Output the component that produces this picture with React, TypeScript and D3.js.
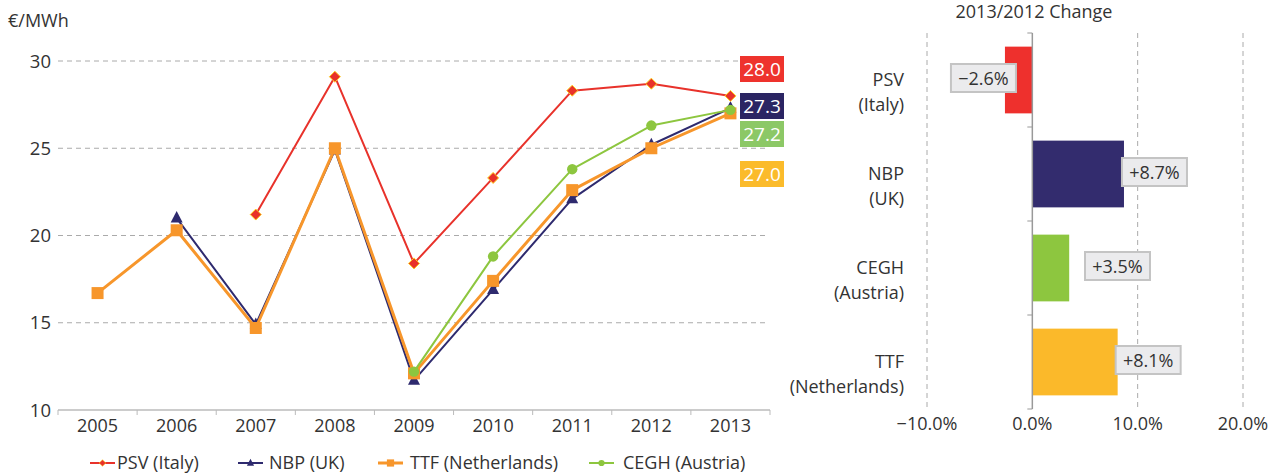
import React from "react";
import * as d3 from "d3";

// hub prices, €/MWh
const years = ["2005", "2006", "2007", "2008", "2009", "2010", "2011", "2012", "2013"];
const psv = [null, null, 21.2, 29.1, 18.4, 23.3, 28.3, 28.7, 28.0];
const nbp = [null, 21.0, 14.9, 24.9, 11.7, 16.9, 22.1, 25.2, 27.3];
const ttf = [16.7, 20.3, 14.7, 25.0, 12.1, 17.4, 22.6, 25.0, 27.0];
const cegh = [null, null, null, null, 12.2, 18.8, 23.8, 26.3, 27.2];
const yTicks = [10, 15, 20, 25, 30];

const seriesNames = ["PSV (Italy)", "NBP (UK)", "TTF (Netherlands)", "CEGH (Austria)"];
const lastLabels = ["28.0", "27.3", "27.2", "27.0"];

// 2013/2012 change
const changeHubs = [["PSV", "(Italy)"], ["NBP", "(UK)"], ["CEGH", "(Austria)"], ["TTF", "(Netherlands)"]];
const changes = [-2.6, 8.7, 3.5, 8.1];
const changeTicks = [-10, 0, 10, 20];

const FONT = "'Open Sans', 'Noto Sans', sans-serif";
const TXT = "#333";

const W = 1287, H = 473;

const Marker = ({ kind, x, y, color }: { kind: string; x: number; y: number; color: string }) => {
  if (kind === "diamond")
    return <path d={`M${x},${y - 5.5}L${x + 5.5},${y}L${x},${y + 5.5}L${x - 5.5},${y}Z`} fill={color} stroke="#ffd21f" strokeWidth={1} />;
  if (kind === "triangle")
    return <path d={`M${x},${y - 7}L${x + 6},${y + 4.5}L${x - 6},${y + 4.5}Z`} fill={color} />;
  if (kind === "square")
    return <rect x={x - 6} y={y - 6} width={12} height={12} fill={color} />;
  return <circle cx={x} cy={y} r={5.2} fill={color} />;
};

const LineChart = () => {
  const x = d3.scaleBand().domain(years).range([58, 770]);
  const y = d3.scaleLinear().domain([10, 30]).range([410, 61]);
  const series = [
    { name: seriesNames[1], data: nbp, color: "#2e2a6e", width: 2, kind: "triangle" },
    { name: seriesNames[2], data: ttf, color: "#f7962b", width: 3, kind: "square" },
    { name: seriesNames[3], data: cegh, color: "#8dc63f", width: 2, kind: "circle" },
    { name: seriesNames[0], data: psv, color: "#e8322b", width: 2, kind: "diamond" },
  ];
  const cx = (i: number) => (x(years[i]) as number) + x.bandwidth() / 2;
  const line = d3
    .line<number | null>()
    .defined((d) => d != null)
    .x((_, i) => cx(i))
    .y((d) => y(d as number));

  const labelColors = ["#ee332d", "#2b2563", "#8cc866", "#fbbb2b"];
  const labelRowY = [69, 106, 134, 174];

  const legend = [
    { s: series[3], lx: 90, tx: 117 },
    { s: series[0], lx: 238, tx: 269 },
    { s: series[1], lx: 378, tx: 410 },
    { s: series[2], lx: 589, tx: 623 },
  ];

  return (
    <g>
      <text x={8} y={27} fontSize={18} fill={TXT}>€/MWh</text>
      {yTicks.map((t) => (
        <g key={t}>
          {t > 10 && (
            <line x1={58} x2={768} y1={y(t)} y2={y(t)} stroke="#aaa" strokeDasharray="5,4" />
          )}
          <text x={51} y={y(t) + 6.5} textAnchor="end" fontSize={18.5} fill={TXT}>{t}</text>
        </g>
      ))}
      <line x1={58} x2={770} y1={410} y2={410} stroke="#bbb" strokeWidth={1.5} />
      {years.map((yr, i) => (
        <g key={yr}>
          <line x1={x(yr) as number} x2={x(yr) as number} y1={410} y2={415} stroke="#bbb" />
          <text x={cx(i)} y={432} textAnchor="middle" fontSize={18} fill={TXT}>{yr}</text>
        </g>
      ))}
      <line x1={770} x2={770} y1={410} y2={415} stroke="#bbb" />
      {series.map((s) => (
        <g key={s.name}>
          <path d={line(s.data) || ""} fill="none" stroke={s.color} strokeWidth={s.width} strokeLinejoin="round" />
          {s.data.map((d, i) => (d == null ? null : <Marker key={i} kind={s.kind} x={cx(i)} y={y(d)} color={s.color} />))}
        </g>
      ))}
      {lastLabels.map((l, i) => (
        <g key={l}>
          <rect x={740} y={labelRowY[i] - 13} width={44} height={26} fill={labelColors[i]} />
          <text x={762} y={labelRowY[i] + 7} textAnchor="middle" fontSize={19} fill="#fff">{l}</text>
        </g>
      ))}
      {legend.map(({ s, lx, tx }) => (
        <g key={s.name}>
          <line x1={lx} x2={lx + 25} y1={463} y2={463} stroke={s.color} strokeWidth={s.width} />
          <g transform={`translate(${lx + 12.5},463) scale(0.6) translate(${-(lx + 12.5)},-463)`}>
            <Marker kind={s.kind} x={lx + 12.5} y={463} color={s.color} />
          </g>
          <text x={tx} y={469} fontSize={18} fill={TXT}>{s.name}</text>
        </g>
      ))}
    </g>
  );
};

const ChangeChart = () => {
  const x = d3.scaleLinear().domain([-10, 20]).range([927, 1243]);
  const names = changeHubs.map((d) => d[0]);
  const y = d3.scaleBand().domain(names).range([33, 409]).paddingInner(0.29).paddingOuter(0.145);
  const band = (409 - 33) / names.length;
  const colors = ["#ee302d", "#332c6e", "#8dc63f", "#fbb92a"];

  return (
    <g>
      <text x={1034} y={18} textAnchor="middle" fontSize={18} fill={TXT}>2013/2012 Change</text>
      {changeTicks.map((t) => (
        <g key={t}>
          {t !== 0 && <line x1={x(t)} x2={x(t)} y1={33} y2={409} stroke="#aaa" strokeDasharray="5,4" />}
          <text x={x(t)} y={430} textAnchor="middle" fontSize={18} fill={TXT}>
            {t.toFixed(1).replace("-", "\u2212") + "%"}
          </text>
        </g>
      ))}
      {changes.map((v, i) => {
        const by = y(names[i]) as number;
        const x0 = x(Math.min(0, v));
        const w = Math.abs(x(v) - x(0));
        const mid = 33 + band * (i + 0.5);
        const bx = v < 0 ? x(v) - 54 : Math.max(x(v) - 2, x(5));
        const label = (v < 0 ? "\u2212" : "+") + Math.abs(v).toFixed(1) + "%";
        return (
          <g key={names[i]}>
            <rect x={x0} y={by} width={w} height={y.bandwidth()} fill={colors[i]} />
            <rect x={bx} y={mid - 16} width={65} height={28} fill="#ebebed" stroke="#c4c4c4" strokeWidth={2} />
            <text x={bx + 32.5} y={mid + 4.5} textAnchor="middle" fontSize={18} fill={TXT}>{label}</text>
            <text x={904} y={mid + 6} textAnchor="end" fontSize={18} fill={TXT}>{changeHubs[i][0]}</text>
            <text x={904} y={mid + 31} textAnchor="end" fontSize={18} fill={TXT}>{changeHubs[i][1]}</text>
          </g>
        );
      })}
      <line x1={x(0)} x2={x(0)} y1={33} y2={409} stroke="#999" strokeWidth={1.5} />
      {d3.range(names.length + 1).map((k) => (
        <line key={k} x1={x(0) - 5} x2={x(0)} y1={33 + band * k} y2={33 + band * k} stroke="#999" />
      ))}
    </g>
  );
};

export default function App() {
  return (
    <svg
      width={W}
      height={H}
      viewBox={`0 0 ${W} ${H}`}
      style={{ position: "absolute", left: 0, top: 0, background: "#fff", fontFamily: FONT }}
    >
      <LineChart />
      <ChangeChart />
    </svg>
  );
}
